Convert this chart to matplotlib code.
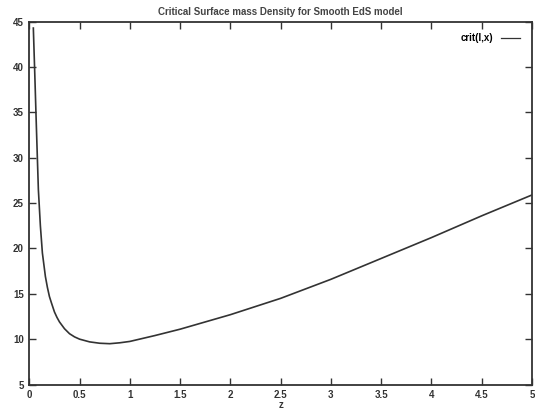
import matplotlib.pyplot as plt
from matplotlib.ticker import FormatStrFormatter

# valores
z = [0.04, 0.055, 0.07, 0.09, 0.11, 0.13, 0.16, 0.18, 0.2, 0.22, 0.25, 0.275, 0.3,
     0.35, 0.4, 0.45, 0.5, 0.6, 0.7, 0.8, 0.9, 1.0, 1.25, 1.5, 1.75, 2.0, 2.5,
     3.0, 3.5, 4.0, 4.5, 5.0]
crit = [44.3, 39.0, 33.5, 26.5, 22.5, 19.5, 16.9, 15.7, 14.7, 14.0, 13.0, 12.4, 11.9,
        11.15, 10.6, 10.25, 10.0, 9.7, 9.55, 9.5, 9.6, 9.75, 10.4, 11.1, 11.9, 12.7, 14.5,
        16.6, 18.9, 21.2, 23.6, 25.9]

xTicks = [0, 0.5, 1, 1.5, 2, 2.5, 3, 3.5, 4, 4.5, 5]
yTicks = [5, 10, 15, 20, 25, 30, 35, 40, 45]

plt.rcParams['font.family'] = ['Liberation Sans', 'DejaVu Sans']
plt.rcParams['font.weight'] = 'bold'

fig = plt.figure(figsize=(5.35, 4.16), dpi=100)
ax = fig.add_axes([0.0548, 0.0757, 0.9396, 0.8721])

ax.plot(z, crit, color='#333333', linewidth=1.2, label='crit(l,x)')

ax.set_xlim(0, 5)
ax.set_ylim(5, 45)
ax.set_xticks(xTicks)
ax.set_yticks(yTicks)
ax.xaxis.set_major_formatter(FormatStrFormatter('%g'))
ax.tick_params(axis='both', direction='in', top=True, right=True, length=5,
               width=1, labelsize=7, colors='#333333', pad=4)
for s in ax.spines.values():
    s.set_linewidth(1.3)
    s.set_color('#333333')

ax.set_title('Critical Surface mass Density for Smooth EdS model', fontsize=7,
             fontweight='bold', color='#444444', pad=5)
ax.set_xlabel('z', fontsize=7, fontweight='bold', labelpad=0, color='#333333')
leg = ax.legend(loc='upper right', frameon=False, markerfirst=False, fontsize=7,
                handlelength=2.0, borderaxespad=0.8)
for ln in leg.get_lines():
    ln.set_linewidth(0.9)

plt.savefig('out.png', dpi=100)
